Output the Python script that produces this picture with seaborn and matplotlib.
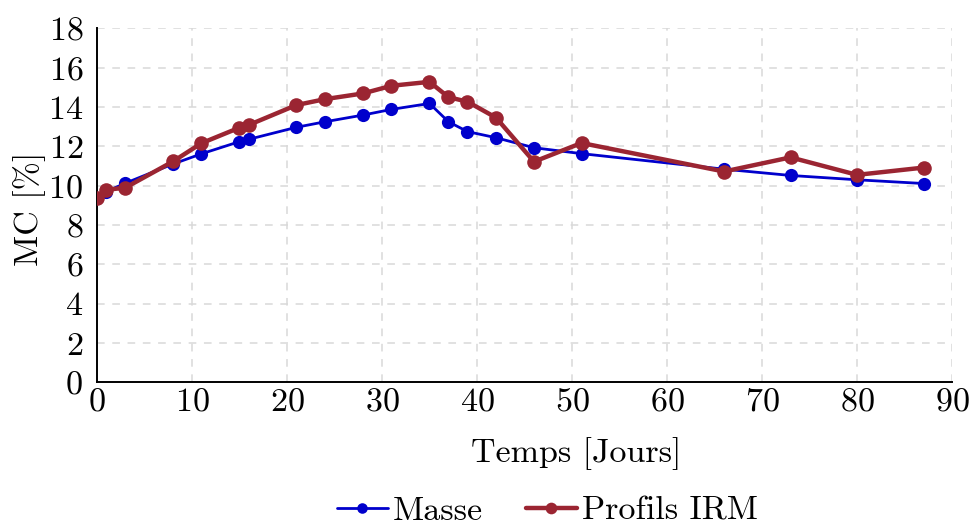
import numpy as np
import pandas as pd
import seaborn as sns
import matplotlib.pyplot as plt

# jours de mesure
jours = [0, 1, 3, 8, 11, 15, 16, 21, 24, 28, 31, 35, 37, 39, 42, 46, 51, 66, 73, 80, 87]

# teneur en eau (%) par pesée
mc_masse = [9.35, 9.7, 10.13, 11.1, 11.62, 12.24, 12.36, 12.97, 13.25, 13.59, 13.88,
            14.18, 13.25, 12.75, 12.44, 11.93, 11.63, 10.84, 10.52, 10.3, 10.11]

# teneur en eau (%) par profils IRM
mc_irm = [9.35, 9.79, 9.9, 11.23, 12.16, 12.95, 13.09, 14.1, 14.4, 14.69, 15.08,
          15.28, 14.5, 14.27, 13.46, 11.22, 12.17, 10.72, 11.44, 10.55, 10.92]

series = ["Masse", "Profils IRM"]
colors = ["#0000cc", "#9b2532"]

df = pd.DataFrame({
    "jour": jours * 2,
    "mc": mc_masse + mc_irm,
    "serie": [series[0]] * len(jours) + [series[1]] * len(jours),
})

sns.set_style("white")
plt.rcParams["font.family"] = ["cmr10", "DejaVu Serif"]
plt.rcParams["mathtext.fontset"] = "cm"
plt.rcParams["axes.formatter.use_mathtext"] = True
plt.rcParams["axes.unicode_minus"] = False
plt.rcParams["text.color"] = "black"
plt.rcParams["axes.labelcolor"] = "black"

fs = 24.5

fig = plt.figure(figsize=(9.79, 5.25), dpi=100)
ax = fig.add_axes([0.099, 0.2717, 0.8735, 0.6743])

widths = [2.0, 3.2]
msizes = [9.5, 10.5]
for i, s in enumerate(series):
    sub = df[df["serie"] == s]
    sns.lineplot(data=sub, x="jour", y="mc", ax=ax, color=colors[i], linewidth=widths[i],
                 marker="o", markersize=msizes[i], markeredgewidth=0, label=s,
                 zorder=3 + i, estimator=None, sort=False)

ax.set_xlim(0, 90)
ax.set_ylim(0, 18)
ax.set_xticks(np.arange(0, 91, 10))
ax.set_yticks(np.arange(0, 19, 2))
ax.grid(True, color="#d8d8d8", linestyle=(0, (5, 5)), linewidth=1.1)
ax.set_axisbelow(True)

for side in ["top", "right"]:
    ax.spines[side].set_visible(False)
for side in ["left", "bottom"]:
    ax.spines[side].set_color("black")
    ax.spines[side].set_linewidth(1.4)

ax.tick_params(axis="both", direction="in", length=6, width=1.2, labelsize=fs,
               colors="black")
ax.tick_params(axis="x", pad=4)
ax.tick_params(axis="y", pad=10)

ax.set_xlabel("Temps [Jours]", fontsize=fs)
ax.set_ylabel("MC [%]", fontsize=fs)
ax.xaxis.set_label_coords(0.56, -0.155)
ax.yaxis.set_label_coords(-0.06, 0.49)

ax.get_legend().remove()
handles, labels = ax.get_legend_handles_labels()
leg = fig.legend(handles, labels, loc="lower center", bbox_to_anchor=(0.559, -0.06),
                 ncol=2, frameon=False, fontsize=fs, handlelength=1.5, handletextpad=0.15,
                 columnspacing=1.25, markerscale=0.8)

fig.savefig("out.png", dpi=100)
